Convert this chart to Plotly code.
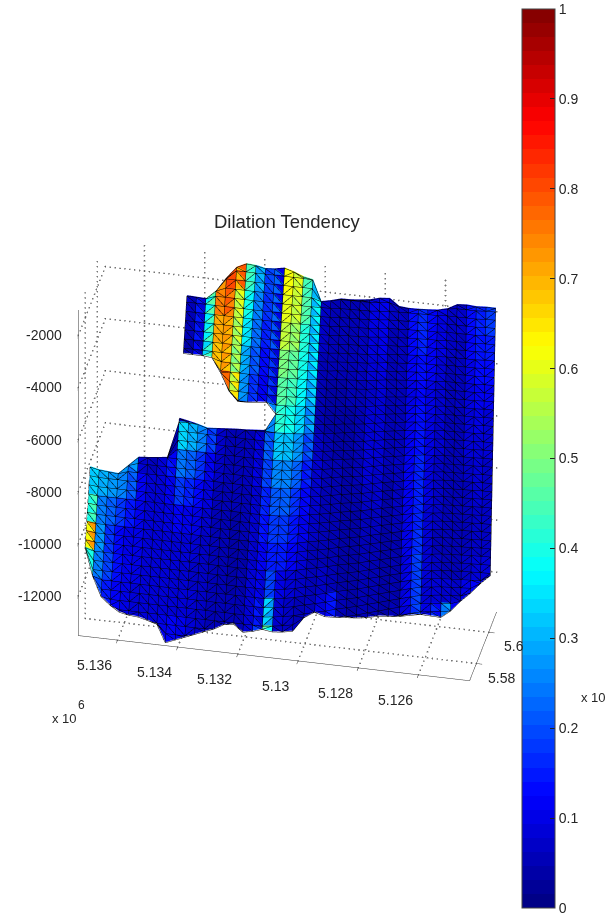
import plotly.graph_objects as go

# ---------- data ----------
x_nodes = [5137300 - 317 * k for k in range(42)]
z_nodes = [-13530, -13232, -12935, -12637, -12340, -12042, -11744, -11447, -11149, -10851, -10554,
           -10256, -9958, -9661, -9363, -9065, -8768, -8470, -8173, -7875, -7577, -7280, -6982,
           -6684, -6387, -6089, -5792, -5494, -5196, -4899, -4601, -4304, -4006, -3708, -3411,
           -3113, -2815, -2518, -2220, -1923, -1625, -1327, -1030]

top_z = [-8192, -8230, -8255, -8280, -7980, -7680, -7655, -7620, -7580, -2318, -2330, -2342, -2055,
         -1592, -1218, -1068, -1092, -1155, -1130, -1068, -1155, -1280, -1342, -2030, -1968, -1905,
         -1905, -1880, -1842, -1780, -1780, -2030, -2068, -2068, -2055, -2030, -1968, -1780, -1755,
         -1780, -1780, -1793]
bottom_z = [-10805, -11655, -12280, -12530, -12718, -12780, -12805, -12880, -12968, -13530, -13405,
            -13280, -13155, -13030, -12905, -12730, -12680, -12905, -12842, -12742, -12830, -12842,
            -12855, -12468, -12330, -12530, -12618, -12680, -12742, -12805, -12818, -12905, -12968,
            -13005, -13030, -13092, -13155, -12905, -12530, -12218, -11842, -11530]
# the white notch: columns 9..19
gap_start = 9
gap_low = [-6280, -6342, -6405, -6492, -6468, -6442, -6418, -6405, -6380, -6355, -5780]
gap_high = [-4180, -4180, -4180, -4205, -4655, -5218, -5518, -5505, -5468, -5442, -5780]

y_top = [561036] * 25 + [561080] * 4 + [561124] + [561168] * 6 + [561212] * 4 + [561256, 561278]
y_bottom = [557208] + [557120] * 19 + [557208, 557296, 557450, 557648, 557824, 558000, 558220,
            558396, 558572, 558792, 558990, 559210, 559408, 559628, 559804, 559892, 559980, 560024,
            560068, 560112, 560134, 560156]

# value (percent) of every band of cells, top band first, one number per column
bands = [
 [5,5,5,5,5,5,5,5,5, 6,8,38,72,80,78,45,30,20,10, 62,60,45,38, 8,6,5,6,5,9,11,7,6,13,17,12,10,7,7,14,15,18],
 [5,5,5,5,5,5,5,5,5, 6,8,36,74,78,60,40,26,18,10, 60,58,46,38, 7,5,5,6,6,10,11,7,6,13,17,13,10,7,7,13,15,18],
 [5,5,5,5,5,5,5,5,5, 5,8,36,70,72,58,36,24,16,9, 56,54,42,36, 7,5,5,5,6,9,11,6,6,12,16,12,10,7,6,12,14,15],
 [5,5,5,5,5,5,5,5,5, 4,6,34,68,72,55,30,22,14,8, 50,48,40,36, 6,5,5,5,6,8,10,6,6,11,14,12,9,6,6,10,13,13],
 [5,5,5,5,5,5,5,5,5, 5,5,30,68,82,64,28,18,12,9, 46,44,38,34, 6,4,4,5,5,7,9,6,5,10,13,10,8,6,6,9,11,11],
 [5,5,5,5,5,5,5,5,5, 5,5,25,60,84,72,22,14,12,26, 42,40,34,30, 6,4,4,4,5,8,9,5,5,10,14,10,8,6,5,8,10,9],
 [5,5,5,5,5,5,5,5,6, 34,30,26,20,8,6,6,6,7,20, 32,32,28,22, 7,5,4,4,5,8,9,5,5,10,15,10,8,5,5,8,9,8],
 [32,30,28,28,28,8,6,8,12, 24,22,18,12,7,6,6,6,7,18, 26,26,22,16, 8,5,5,4,5,8,8,5,5,11,16,10,7,5,5,7,9,7],
 [33,30,28,26,22,12,8,8,10, 18,16,13,10,6,5,5,5,7,15, 21,22,18,13, 8,6,5,4,4,7,8,4,5,11,16,10,7,5,5,6,8,7],
 [45,25,22,18,15,11,9,8,9, 12,11,10,8,6,5,4,5,7,13, 18,18,15,11, 7,6,5,4,4,6,7,4,5,10,16,9,7,5,5,6,7,7],
 [72,28,18,13,10,10,9,8,8, 9,8,8,7,6,5,4,4,7,11, 15,15,12,9, 6,6,5,4,4,5,6,4,4,10,18,9,6,5,5,6,7,7],
 [40,25,20,14,11,10,9,8,8, 8,8,7,7,6,5,4,4,8,8, 20,10,9,7, 6,7,6,4,4,5,5,4,4,9,20,9,7,6,5,7,8,8],
 [30,20,15,12,10,9,9,9,9, 9,9,8,7,6,5,5,5,8,8, 34,8,7,6, 6,8,15,5,4,5,5,4,4,8,20,9,8,8,7,10,12,12],
 [25,18,14,11,10,9,9,9,10, 12,11,9,7,6,5,5,6,8,8, 48,7,7,7, 6,8,20,6,5,5,5,4,5,8,19,10,12,28,12,13,14,14],
]
# columns whose cells are split along "/" instead of "\"
slash_columns = [3, 5, 11, 13, 15, 19, 21, 32, 34, 38, 40]

x_ticks = [5136000, 5134000, 5132000, 5130000, 5128000, 5126000]
x_labels = ["5.136", "5.134", "5.132", "5.13", "5.128", "5.126"]
y_ticks = [558000, 560000]
y_labels = ["5.58", "5.6"]
z_ticks = [-12000, -10000, -8000, -6000, -4000, -2000]
z_labels = ["-12000", "-10000", "-8000", "-6000", "-4000", "-2000"]
cbar_ticks = [0, .1, .2, .3, .4, .5, .6, .7, .8, .9, 1]
cbar_labels = ["0", "0.1", "0.2", "0.3", "0.4", "0.5", "0.6", "0.7", "0.8", "0.9", "1"]

x_range = [5137300, 5124300]
y_range = [556900, 561300]
z_range = [-13530, -1030]
TICK_COLOR = "#262626"
TICK_FONT = dict(family="Liberation Sans", size=14, color=TICK_COLOR)


def jet(t):
    f = lambda c: max(0.0, min(1.0, 1.5 - abs(4 * t - c)))
    return "rgb(%d,%d,%d)" % (f(3) * 255, f(2) * 255, f(1) * 255)


jet_scale = []
for k in range(64):
    c = jet((k + 0.5) / 64)
    jet_scale += [[k / 64, c], [(k + 1) / 64, c]]

# ---------- build the triangulated surface ----------
vx, vy, vz, ii, jj, kk, face_vals = [], [], [], [], [], [], []
wx, wy, wz = [], [], []


def node_y(i, z):
    frac = (z - z_range[0]) / (z_range[1] - z_range[0])
    return y_bottom[i] + (y_top[i] - y_bottom[i]) * frac


def limits(i, row_mid):
    lo, hi = bottom_z[i], top_z[i]
    g = i - gap_start
    if 0 <= g < len(gap_low):
        if row_mid < (gap_low[g] + gap_high[g]) / 2:
            hi = gap_low[g]
        else:
            lo = gap_high[g]
    return lo, hi


def add_wire(p, q):
    wx.extend([p[0], q[0], None])
    wy.extend([p[1] - 50, q[1] - 50, None])
    wz.extend([p[2], q[2], None])


nrows = len(z_nodes) - 1
for j in range(nrows):
    z0, z1 = z_nodes[j], z_nodes[j + 1]
    mid = (z0 + z1) / 2
    band = bands[len(bands) - 1 - min(j // 3, len(bands) - 1)]
    for i in range(41):
        l0, h0 = limits(i, mid)
        l1, h1 = limits(i + 1, mid)
        if i == gap_start - 1 and mid > gap_low[0]:
            continue
        if i + 1 == gap_start:
            h1 = gap_low[0]; l1 = bottom_z[i + 1]
        cl = lambda z, lo, hi: max(lo, min(hi, z))
        a_z, d_z = cl(z0, l0, h0), cl(z1, l0, h0)
        b_z, c_z = cl(z0, l1, h1), cl(z1, l1, h1)
        if d_z - a_z < 1 and c_z - b_z < 1:
            continue
        a = (x_nodes[i], node_y(i, a_z), a_z)
        b = (x_nodes[i + 1], node_y(i + 1, b_z), b_z)
        c = (x_nodes[i + 1], node_y(i + 1, c_z), c_z)
        d = (x_nodes[i], node_y(i, d_z), d_z)
        n = len(vx)
        for p in (a, b, c, d):
            vx.append(p[0]); vy.append(p[1]); vz.append(p[2])
        v = band[i] / 100
        v2 = (3 * band[i] + band[min(i + 1, 40)]) / 400
        if i in slash_columns:   # "/" diagonal
            ii += [n, n]; jj += [n + 1, n + 2]; kk += [n + 2, n + 3]
            add_wire(a, c)
        else:                    # "\" diagonal
            ii += [n, n + 1]; jj += [n + 1, n + 2]; kk += [n + 3, n + 3]
            add_wire(b, d)
        face_vals += [v2, v]
        for p, q in ((a, b), (b, c), (c, d), (d, a)):
            add_wire(p, q)

fig = go.Figure()

# dotted grid on the two back walls and the floor, as small dots along each line
gx, gy, gz = [], [], []


def dotted(p, q, count):
    for s in range(count + 1):
        f = s / count
        gx.append(p[0] + (q[0] - p[0]) * f)
        gy.append(p[1] + (q[1] - p[1]) * f)
        gz.append(p[2] + (q[2] - p[2]) * f)


for t in x_ticks:
    dotted((t, y_range[0], z_range[0]), (t, y_range[1], z_range[0]), 15)
    dotted((t, y_range[1], z_range[0]), (t, y_range[1], z_range[1]), 65)
for t in y_ticks:
    dotted((x_range[1], t, z_range[0]), (x_range[0], t, z_range[0]), 80)
    dotted((x_range[0], t, z_range[0]), (x_range[0], t, z_range[1]), 65)
for t in z_ticks:
    dotted((x_range[1], y_range[1], t), (x_range[0], y_range[1], t), 80)
    dotted((x_range[0], y_range[1], t), (x_range[0], y_range[0], t), 15)
fig.add_trace(go.Scatter3d(x=gx, y=gy, z=gz, mode="markers", hoverinfo="skip", showlegend=False,
                           marker=dict(color="#555555", size=1, opacity=0.8, line=dict(width=0))))

fig.add_trace(go.Mesh3d(
    x=vx, y=vy, z=vz, i=ii, j=jj, k=kk, intensity=face_vals, intensitymode="cell",
    colorscale=jet_scale, cmin=0, cmax=1, flatshading=True, hoverinfo="skip",
    lighting=dict(ambient=1, diffuse=0, specular=0, roughness=1, fresnel=0),
    colorbar=dict(x=522 / 609, xanchor="left", xpad=0, ypad=0, thickness=33, thicknessmode="pixels",
                  len=899 / 913, lenmode="fraction", y=(913 - 458.5) / 913, yanchor="middle",
                  tickmode="array", tickvals=cbar_ticks, ticktext=cbar_labels, ticks="inside",
                  ticklen=5, tickcolor="#222222", outlinecolor="#444444", outlinewidth=1,
                  ticklabeloverflow="allow", tickfont=TICK_FONT),
))
fig.add_trace(go.Scatter3d(x=wx, y=wy, z=wz, mode="lines", hoverinfo="skip", showlegend=False,
                           line=dict(color="#000000", width=1)))


def axis(rng, ticks):
    return dict(range=rng, tickmode="array", tickvals=ticks, ticktext=[""] * len(ticks),
                showticklabels=False, showgrid=False,
                zeroline=False, showbackground=False, showline=True, linecolor="#333333", linewidth=1,
                ticks="inside", ticklen=6, tickcolor="#333333", title=dict(text=""), showspikes=False)


def note(text, px, py, size):
    return dict(text=text, x=px / 609, y=1 - py / 913, xref="paper", yref="paper", showarrow=False,
                xanchor="center", yanchor="middle",
                font=dict(family="Liberation Sans", size=size, color=TICK_COLOR))


def tick_label(x, y, z, text, dx, dy, anchor="center"):
    return dict(x=x, y=y, z=z, text=text, showarrow=False, xshift=dx, yshift=dy,
                xanchor=anchor, yanchor="middle", font=TICK_FONT)


scene_labels = (
    [tick_label(t, y_range[0], z_range[0], s, -23, -25) for t, s in zip(x_ticks, x_labels)]
    + [tick_label(x_range[1], t, z_range[0], s, 25, -14) for t, s in zip(y_ticks, y_labels)]
    + [tick_label(x_range[0], y_range[0], t, s, -14, 0, "right") for t, s in zip(z_ticks, z_labels)]
)

fig.update_layout(
    width=609, height=913, margin=dict(l=0, r=0, t=0, b=0), paper_bgcolor="white", showlegend=False,
    scene=dict(
        domain=dict(x=[0, 0.944], y=[0, 0.99]),
        aspectmode="manual", aspectratio=dict(x=0.885, y=0.287, z=0.857),
        xaxis=axis(x_range, x_ticks),
        yaxis=axis(y_range, y_ticks),
        zaxis=axis(z_range, z_ticks),
        annotations=scene_labels,
        camera=dict(projection=dict(type="orthographic"), up=dict(x=0, y=0, z=1),
                    center=dict(x=0, y=0, z=0),
                    eye=dict(x=0.175 * 2.03, y=-0.822 * 2.03, z=0.542 * 2.03)),
    ),
    annotations=[
        note("Dilation Tendency", 287, 222, 18.5),
        note("x 10", 64, 718, 13),
        note("6", 81, 705, 12),
        note("x 10", 593, 697, 13),
    ],
)
fig.write_html("out.html", config=dict(displayModeBar=False),
               post_script="document.body.style.margin='0';document.body.style.overflow='hidden';")
